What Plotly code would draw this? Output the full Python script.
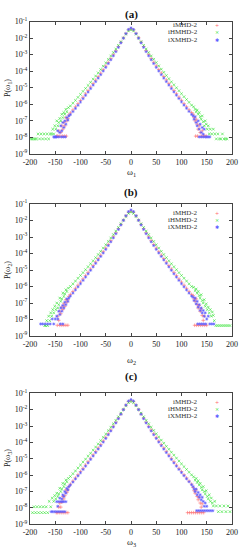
import numpy as np
import plotly.graph_objects as go

# ---------------- data (log10 of P) ----------------
OMEGA_CORE = [-120, -115, -110, -105, -100, -95, -90, -85, -80, -75, -70, -65, -60, -55, -50, -45,
              -40, -35, -30, -25, -20, -15, -10, -5, 0, 5, 10, 15, 20, 25, 30, 35, 40, 45, 50, 55,
              60, 65, 70, 75, 80, 85, 90, 95, 100, 105, 110, 115, 120]

SERIES_NAMES = ["iMHD-2", "iHMHD-2", "iXMHD-2"]
PANEL_LABELS = ["(a)", "(b)", "(c)"]
X_LABELS = ["ω<sub>1</sub>", "ω<sub>2</sub>", "ω<sub>3</sub>"]
Y_LABELS = ["P(ω<sub>1</sub>)", "P(ω<sub>2</sub>)", "P(ω<sub>3</sub>)"]
X_TICKS = [-200, -150, -100, -50, 0, 50, 100, 150, 200]
Y_TICK_EXP = [-9, -8, -7, -6, -5, -4, -3, -2, -1]

# ---- panel (a)
A_IMHD_CORE = [-6.52, -6.34, -6.15, -5.96, -5.77, -5.57, -5.37, -5.17, -4.96, -4.75, -4.54, -4.33, -4.12,
               -3.91, -3.69, -3.47, -3.24, -3.01, -2.77, -2.52, -2.26, -1.99, -1.73, -1.51, -1.44,
               -1.51, -1.72, -1.98, -2.25, -2.51, -2.76, -3.00, -3.23, -3.46, -3.68, -3.90, -4.11,
               -4.32, -4.53, -4.74, -4.95, -5.16, -5.36, -5.56, -5.76, -5.96, -6.15, -6.33, -6.50]
A_IHMHD_CORE = [-6.10, -5.93, -5.76, -5.58, -5.40, -5.22, -5.04, -4.86, -4.67, -4.48, -4.29, -4.10, -3.90,
                -3.70, -3.50, -3.29, -3.08, -2.87, -2.66, -2.44, -2.22, -1.99, -1.76, -1.57, -1.50,
                -1.57, -1.76, -1.99, -2.22, -2.44, -2.66, -2.87, -3.08, -3.28, -3.48, -3.68, -3.88,
                -4.07, -4.26, -4.45, -4.64, -4.82, -5.00, -5.18, -5.36, -5.54, -5.71, -5.88, -6.05]
A_IXMHD_CORE = [-6.62, -6.44, -6.25, -6.06, -5.86, -5.66, -5.46, -5.26, -5.05, -4.84, -4.63, -4.42, -4.21,
                -3.99, -3.77, -3.54, -3.31, -3.07, -2.82, -2.56, -2.29, -2.01, -1.73, -1.48, -1.39,
                -1.48, -1.73, -2.01, -2.29, -2.56, -2.82, -3.07, -3.31, -3.54, -3.77, -3.99, -4.21,
                -4.42, -4.63, -4.84, -5.05, -5.25, -5.45, -5.65, -5.85, -6.05, -6.24, -6.43, -6.61]
A_IMHD_TAIL = [(-123, -6.65), (-125, -6.85), (-127, -7.0), (-129, -6.8), (-131, -7.3), (-133, -7.1),
               (-135, -7.5), (-137, -7.3), (-139, -7.7), (-141, -7.92), (-143, -7.6), (-145, -7.92),
               (-128, -7.92), (-132, -7.92), (-136, -7.92), (-147, -7.92),
               (123, -6.6), (125, -6.8), (127, -7.0), (129, -6.9), (131, -7.2), (133, -7.5), (135, -7.3),
               (137, -7.7), (139, -7.92), (141, -7.6), (143, -7.92), (146, -7.92), (149, -7.92),
               (128, -7.92), (132, -7.92)]
A_IHMHD_TAIL = [(-124, -6.2), (-127, -6.45), (-129, -6.3), (-131, -6.6), (-133, -6.5), (-135, -6.8),
                (-137, -6.6), (-139, -7.0), (-141, -6.85), (-143, -7.1), (-145, -7.3), (-147, -7.0),
                (-149, -7.5), (-151, -7.3), (-153, -7.79), (-155, -7.5), (-157, -7.79), (-160, -7.79),
                (-163, -8.09), (-166, -7.79), (-169, -8.09), (-172, -7.79), (-175, -8.09), (-178, -7.79),
                (-181, -8.09), (-184, -7.79), (-187, -8.09), (-190, -8.09), (-193, -8.09), (-196, -8.09),
                (-199, -8.09),
                (124, -6.15), (127, -6.3), (129, -6.45), (131, -6.35), (133, -6.6), (135, -6.5), (137, -6.75),
                (139, -6.9), (141, -6.7), (143, -7.05), (145, -7.3), (147, -7.0), (149, -7.2), (151, -7.5),
                (153, -7.3), (155, -7.79), (157, -7.5), (160, -7.79), (163, -7.5), (166, -7.79), (169, -8.09),
                (172, -7.79), (175, -8.09), (178, -8.09), (181, -7.79), (184, -8.09), (187, -8.09), (190, -8.09)]
A_IXMHD_TAIL = [(-123, -6.7), (-125, -6.95), (-127, -6.8), (-129, -7.2), (-131, -7.0), (-133, -7.4),
                (-135, -7.1), (-137, -7.6), (-139, -7.3), (-141, -7.7), (-143, -7.97), (-145, -7.6),
                (-147, -7.97), (-149, -7.97), (-151, -7.97), (-153, -7.97), (-130, -7.97), (-134, -7.97),
                (-138, -7.97),
                (123, -6.7), (125, -6.9), (127, -6.75), (129, -7.1), (131, -7.3), (133, -7.0), (135, -7.5),
                (137, -7.2), (139, -7.7), (141, -7.4), (143, -7.8), (145, -7.5), (147, -7.97), (150, -7.97),
                (153, -7.97), (135, -7.97), (139, -7.97), (143, -7.97), (156, -7.97)]

# ---- panel (b)
B_IMHD_CORE = [-6.48, -6.30, -6.11, -5.92, -5.73, -5.54, -5.34, -5.14, -4.94, -4.73, -4.52, -4.31, -4.10,
               -3.89, -3.67, -3.45, -3.22, -2.99, -2.75, -2.50, -2.24, -1.98, -1.72, -1.50, -1.43,
               -1.50, -1.72, -1.98, -2.24, -2.50, -2.75, -2.99, -3.22, -3.45, -3.67, -3.89, -4.10,
               -4.31, -4.52, -4.73, -4.94, -5.14, -5.34, -5.54, -5.73, -5.92, -6.11, -6.30, -6.48]
B_IHMHD_CORE = [-6.00, -5.84, -5.67, -5.50, -5.33, -5.16, -4.98, -4.80, -4.62, -4.44, -4.25, -4.06, -3.87,
                -3.67, -3.47, -3.27, -3.06, -2.85, -2.64, -2.42, -2.20, -1.98, -1.76, -1.57, -1.50,
                -1.57, -1.76, -1.98, -2.20, -2.42, -2.64, -2.85, -3.06, -3.27, -3.47, -3.67, -3.87,
                -4.06, -4.25, -4.44, -4.62, -4.80, -4.98, -5.16, -5.33, -5.50, -5.67, -5.84, -6.00]
B_IXMHD_CORE = [-6.58, -6.40, -6.21, -6.02, -5.83, -5.63, -5.43, -5.23, -5.02, -4.81, -4.60, -4.39, -4.18,
                -3.97, -3.75, -3.52, -3.29, -3.05, -2.80, -2.54, -2.27, -1.99, -1.71, -1.46, -1.36,
                -1.46, -1.71, -1.99, -2.27, -2.54, -2.80, -3.05, -3.29, -3.52, -3.75, -3.97, -4.18,
                -4.39, -4.60, -4.81, -5.02, -5.23, -5.43, -5.63, -5.83, -6.02, -6.21, -6.40, -6.58]
B_IMHD_TAIL = [(-123, -6.6), (-125, -6.8), (-127, -6.95), (-129, -6.8), (-131, -7.2), (-133, -7.05),
               (-135, -7.4), (-137, -7.25), (-139, -7.65), (-141, -7.5), (-143, -8.05), (-145, -7.8),
               (-125, -8.35), (-129, -8.35), (-133, -8.35), (-137, -8.35), (-141, -8.35), (-146, -8.35),
               (123, -6.55), (125, -6.75), (127, -6.9), (129, -6.75), (131, -7.1), (133, -7.3), (135, -7.15),
               (137, -7.5), (139, -7.35), (141, -7.75), (143, -8.05), (145, -7.8), (126, -8.35), (130, -8.35),
               (134, -8.35), (138, -8.35), (142, -8.35), (146, -8.35), (150, -8.35)]
B_IHMHD_TAIL = [(-124, -6.1), (-127, -6.3), (-129, -6.2), (-131, -6.45), (-133, -6.6), (-135, -6.4),
                (-137, -6.75), (-139, -6.9), (-141, -6.7), (-143, -7.1), (-145, -7.3), (-147, -7.0),
                (-149, -7.4), (-151, -7.2), (-153, -7.6), (-155, -7.4), (-157, -7.8), (-159, -7.6),
                (-161, -8.07), (-163, -7.8), (-165, -8.37), (-167, -8.07), (-169, -8.37), (-171, -8.37),
                (124, -6.05), (127, -6.25), (129, -6.15), (131, -6.4), (133, -6.3), (135, -6.55), (137, -6.7),
                (139, -6.5), (141, -6.85), (143, -7.0), (145, -6.8), (147, -7.2), (149, -7.05), (151, -7.4),
                (153, -7.25), (155, -7.6), (157, -7.4), (159, -7.8), (161, -7.55), (163, -7.75), (165, -8.07),
                (168, -8.37), (172, -8.37), (176, -8.37), (180, -8.37), (184, -8.37), (188, -8.37),
                (192, -8.37), (196, -8.37)]
B_IXMHD_TAIL = [(-123, -6.7), (-125, -6.9), (-127, -6.75), (-129, -7.1), (-131, -6.95), (-133, -7.3),
                (-135, -7.15), (-137, -7.5), (-139, -7.3), (-141, -7.7), (-143, -7.5), (-145, -7.97),
                (-147, -7.8), (-150, -7.97), (-153, -8.27), (-156, -7.97), (-160, -8.27), (-165, -8.27),
                (-170, -8.27), (-175, -8.27), (-179, -8.27), (-140, -8.27), (-135, -8.27),
                (123, -6.65), (125, -6.85), (127, -6.7), (129, -7.05), (131, -6.9), (133, -7.25), (135, -7.1),
                (137, -7.45), (139, -7.3), (141, -7.6), (143, -7.45), (145, -7.8), (147, -7.6), (150, -7.97),
                (153, -7.8), (156, -8.27), (160, -8.27), (164, -8.27), (132, -8.27), (136, -8.27),
                (140, -8.27), (144, -8.27), (148, -8.27)]

# ---- panel (c)
C_IMHD_CORE = [-6.55, -6.36, -6.17, -5.98, -5.78, -5.58, -5.38, -5.18, -4.97, -4.76, -4.55, -4.34, -4.13,
               -3.91, -3.69, -3.47, -3.24, -3.01, -2.77, -2.52, -2.26, -1.99, -1.73, -1.51, -1.44,
               -1.51, -1.73, -1.99, -2.26, -2.52, -2.77, -3.01, -3.24, -3.47, -3.69, -3.91, -4.13,
               -4.34, -4.55, -4.76, -4.97, -5.18, -5.38, -5.58, -5.78, -5.98, -6.17, -6.36, -6.55]
C_IHMHD_CORE = [-6.08, -5.91, -5.74, -5.56, -5.38, -5.20, -5.02, -4.84, -4.66, -4.47, -4.28, -4.09, -3.89,
                -3.69, -3.49, -3.28, -3.07, -2.86, -2.65, -2.43, -2.21, -1.99, -1.76, -1.57, -1.50,
                -1.57, -1.76, -1.99, -2.21, -2.43, -2.65, -2.86, -3.07, -3.27, -3.47, -3.67, -3.86,
                -4.05, -4.24, -4.42, -4.60, -4.78, -4.96, -5.14, -5.31, -5.48, -5.65, -5.82, -5.98]
C_IXMHD_CORE = [-6.60, -6.42, -6.23, -6.04, -5.85, -5.65, -5.45, -5.25, -5.04, -4.83, -4.62, -4.41, -4.20,
                -3.98, -3.76, -3.53, -3.30, -3.06, -2.81, -2.55, -2.28, -2.00, -1.72, -1.47, -1.38,
                -1.47, -1.72, -2.00, -2.28, -2.55, -2.81, -3.06, -3.30, -3.53, -3.76, -3.98, -4.20,
                -4.41, -4.62, -4.83, -5.04, -5.25, -5.45, -5.65, -5.84, -6.03, -6.22, -6.40, -6.58]
C_IMHD_TAIL = [(-123, -6.7), (-125, -6.9), (-127, -7.05), (-129, -6.9), (-131, -7.25), (-133, -7.45),
               (-135, -7.3), (-137, -7.65), (-139, -7.95), (-141, -7.7), (-143, -7.95), (-125, -8.29),
               (-129, -8.29), (-133, -8.29), (-137, -8.29), (-141, -8.29), (-145, -8.29), (-148, -8.29),
               (123, -6.75), (125, -6.95), (127, -7.1), (129, -6.9), (131, -7.3), (133, -7.5), (135, -7.35),
               (137, -7.7), (139, -7.95), (141, -7.75), (112, -8.29), (116, -8.29), (120, -8.29),
               (124, -8.29), (128, -8.29), (132, -8.29), (136, -8.29), (140, -8.29), (144, -8.29)]
C_IHMHD_TAIL = [(-124, -6.2), (-127, -6.4), (-129, -6.3), (-131, -6.55), (-133, -6.7), (-135, -6.5),
                (-137, -6.85), (-139, -7.0), (-141, -6.8), (-143, -7.15), (-145, -7.3), (-147, -7.1),
                (-149, -7.45), (-151, -7.25), (-153, -7.6), (-156, -7.4), (-159, -7.93), (-162, -7.6),
                (-165, -8.29), (-168, -7.93), (-171, -8.29), (-174, -7.93), (-177, -8.29), (-180, -7.93),
                (-183, -8.29), (-186, -7.93), (-189, -8.29), (-192, -7.93), (-195, -8.29),
                (124, -6.1), (127, -6.3), (129, -6.2), (131, -6.45), (133, -6.35), (135, -6.6), (137, -6.5),
                (139, -6.75), (141, -6.9), (143, -6.7), (145, -7.0), (147, -7.15), (149, -6.95), (151, -7.3),
                (153, -7.45), (155, -7.2), (157, -7.6), (159, -7.4), (161, -7.7), (163, -7.88), (166, -7.6),
                (169, -7.88), (173, -8.23), (176, -7.88), (180, -8.23), (184, -7.88), (188, -8.23),
                (192, -7.88), (196, -8.23)]
C_IXMHD_TAIL = [(-123, -6.7), (-125, -6.9), (-127, -6.8), (-129, -7.1), (-131, -7.0), (-133, -7.3),
                (-135, -7.2), (-137, -7.45), (-139, -7.62), (-141, -7.4), (-143, -7.62), (-145, -7.9),
                (-147, -7.62), (-129, -7.62), (-133, -7.62), (-136, -7.62), (-131, -8.23), (-135, -8.23),
                (-139, -8.23), (-143, -8.23), (-147, -8.23), (-151, -8.23), (-155, -8.23), (-158, -8.23),
                (123, -6.7), (125, -6.85), (127, -7.0), (129, -6.85), (131, -7.2), (133, -7.05), (135, -7.35),
                (137, -7.2), (139, -7.5), (141, -7.35), (143, -7.6), (145, -7.9), (147, -7.7), (150, -7.9),
                (130, -8.17), (134, -8.17), (138, -8.17), (142, -8.17), (146, -8.17), (150, -8.17),
                (154, -8.17), (158, -8.17), (162, -8.17)]

PANELS = [
    ([A_IMHD_CORE, A_IHMHD_CORE, A_IXMHD_CORE], [A_IMHD_TAIL, A_IHMHD_TAIL, A_IXMHD_TAIL]),
    ([B_IMHD_CORE, B_IHMHD_CORE, B_IXMHD_CORE], [B_IMHD_TAIL, B_IHMHD_TAIL, B_IXMHD_TAIL]),
    ([C_IMHD_CORE, C_IHMHD_CORE, C_IXMHD_CORE], [C_IMHD_TAIL, C_IHMHD_TAIL, C_IXMHD_TAIL]),
]

# ---------------- styling / layout ----------------
W, H = 240, 550
COLORS = ["#ff6a6a", "#2ee02e", "#5a5aff"]
SYMBOLS = ["cross-thin", "x-thin", "asterisk-open"]
LEG_CHARS = ["+", "×", "✱"]
SERIF = "Liberation Serif, Times New Roman, serif"

GEOM = [
    dict(top=21.5, bottom=154, title=15, xlab=172, ylab=88, leg=[25, 32.5, 40]),
    dict(top=204, bottom=336, title=193, xlab=360, ylab=270, leg=[212.5, 219.5, 226.5]),
    dict(top=393.3, bottom=524.3, title=376, xlab=542, ylab=458, leg=[401.5, 408.8, 416]),
]
X_LEFT, X_RIGHT = 30, 232


def py(p):
    return 1 - p / H


def px(p):
    return p / W


def note(text, x, y, size, color="#222", family=SERIF, xanchor="center", angle=0):
    return dict(text=text, x=px(x), y=py(y), xref="paper", yref="paper", showarrow=False,
                xanchor=xanchor, yanchor="middle", textangle=angle,
                font=dict(family=family, size=size, color=color))


fig = go.Figure()
annotations = []
layout = {}

for k, (cores, tails) in enumerate(PANELS):
    g = GEOM[k]
    sfx = "" if k == 0 else str(k + 1)
    for s in range(3):
        assert len(cores[s]) == len(OMEGA_CORE)
        w = list(OMEGA_CORE) + [t[0] for t in tails[s]]
        lp = list(cores[s]) + [t[1] for t in tails[s]]
        fig.add_trace(go.Scatter(
            x=w, y=np.power(10.0, lp), mode="markers", name=SERIES_NAMES[s],
            xaxis="x" + sfx, yaxis="y" + sfx, showlegend=False,
            marker=dict(symbol=SYMBOLS[s], size=2.6, color=COLORS[s],
                        line=dict(color=COLORS[s], width=0.6)),
        ))
    axis_common = dict(
        ticks="inside", ticklen=3, tickcolor="#444", showline=True, linecolor="#444", linewidth=1,
        mirror="allticks", showgrid=False, zeroline=False, automargin=False,
        tickfont=dict(family=SERIF, size=8, color="#222"),
    )
    layout["xaxis" + sfx] = dict(
        domain=[px(X_LEFT), px(X_RIGHT)], anchor="y" + sfx, range=[-200, 200],
        tickvals=X_TICKS, ticktext=[str(v) for v in X_TICKS], **axis_common,
    )
    layout["yaxis" + sfx] = dict(
        domain=[py(g["bottom"]), py(g["top"])], anchor="x" + sfx, type="log", range=[-9, -1],
        tickvals=[10.0 ** e for e in Y_TICK_EXP],
        ticktext=["10<sup>%d</sup>" % e for e in Y_TICK_EXP], **axis_common,
    )
    annotations.append(note("<b>" + PANEL_LABELS[k] + "</b>", 131, g["title"], 11, "#111"))
    annotations.append(note(X_LABELS[k], 131, g["xlab"], 9))
    annotations.append(note(Y_LABELS[k], 8, g["ylab"], 8, angle=-90))
    for s in range(3):
        annotations.append(note(SERIES_NAMES[s], 199.5, g["leg"][s], 7, "#333", xanchor="right"))
        annotations.append(note(LEG_CHARS[s], 217, g["leg"][s], 5, COLORS[s], family="DejaVu Sans"))

fig.update_layout(
    template="none",
    width=W, height=H, margin=dict(l=0, r=0, t=0, b=0, pad=0), autosize=False,
    paper_bgcolor="white", plot_bgcolor="white", showlegend=False,
    annotations=annotations, **layout,
)

fig.write_html("out.html", config={"displayModeBar": False},
               post_script="document.body.style.margin='0';document.body.style.overflow='hidden';")
